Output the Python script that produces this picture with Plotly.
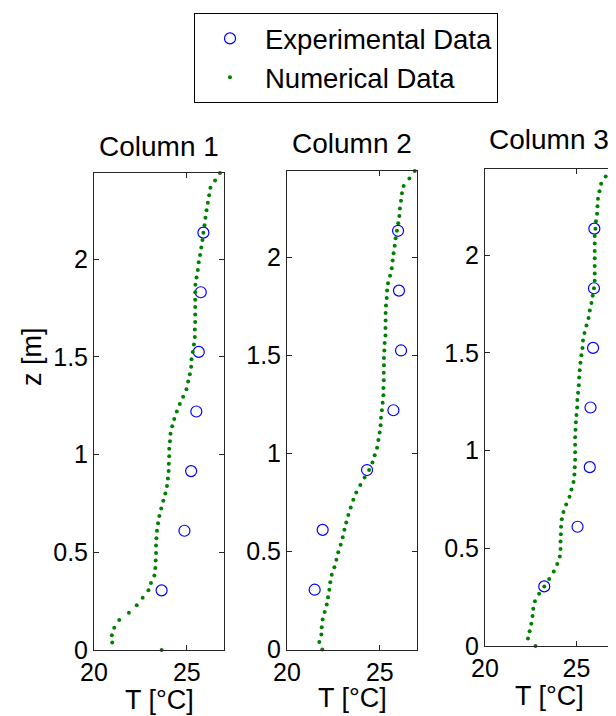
import plotly.graph_objects as go

# ---------------- data ----------------
z_num = [0.000, 0.038, 0.076, 0.114, 0.153, 0.191, 0.229, 0.267, 0.305, 0.343,
         0.381, 0.419, 0.458, 0.496, 0.534, 0.572, 0.610, 0.648, 0.686, 0.724,
         0.763, 0.801, 0.839, 0.877, 0.915, 0.953, 0.991, 1.029, 1.068, 1.106,
         1.144, 1.182, 1.220, 1.258, 1.296, 1.334, 1.373, 1.411, 1.449, 1.487,
         1.525, 1.563, 1.601, 1.639, 1.678, 1.716, 1.754, 1.792, 1.830, 1.868,
         1.906, 1.944, 1.983, 2.021, 2.059, 2.097, 2.135, 2.173, 2.211, 2.249,
         2.288, 2.326, 2.364, 2.402, 2.440]

T_num_col1 = [23.64, 20.98, 20.96, 21.09, 21.36, 21.88, 22.30, 22.62, 22.93, 23.07,
              23.25, 23.30, 23.32, 23.34, 23.34, 23.36, 23.39, 23.45, 23.52, 23.62,
              23.73, 23.84, 23.93, 23.98, 24.02, 24.03, 24.05, 24.05, 24.09, 24.12,
              24.21, 24.32, 24.46, 24.62, 24.80, 24.98, 25.07, 25.16, 25.23, 25.25,
              25.32, 25.38, 25.43, 25.43, 25.45, 25.45, 25.45, 25.45, 25.45, 25.46,
              25.52, 25.59, 25.64, 25.71, 25.78, 25.84, 25.89, 25.95, 26.00, 26.06,
              26.13, 26.20, 26.27, 26.52, 26.78]

T_num_col2 = [21.90, 21.74, 21.85, 21.87, 21.92, 22.03, 22.14, 22.21, 22.28, 22.33,
              22.41, 22.55, 22.66, 22.76, 22.89, 23.00, 23.09, 23.19, 23.30, 23.43,
              23.57, 23.73, 23.95, 24.18, 24.42, 24.60, 24.72, 24.85, 24.92, 24.99,
              25.04, 25.06, 25.11, 25.15, 25.19, 25.19, 25.21, 25.21, 25.22, 25.22,
              25.24, 25.26, 25.30, 25.30, 25.31, 25.31, 25.33, 25.37, 25.39, 25.44,
              25.55, 25.64, 25.69, 25.74, 25.80, 25.85, 25.92, 25.99, 26.05, 26.08,
              26.14, 26.19, 26.28, 26.59, 26.88]

T_num_col3 = [22.76, 22.35, 22.44, 22.53, 22.60, 22.64, 22.73, 22.96, 23.24, 23.51,
              23.76, 23.95, 24.09, 24.13, 24.13, 24.15, 24.16, 24.20, 24.29, 24.44,
              24.62, 24.73, 24.84, 24.89, 24.91, 24.93, 24.93, 24.93, 24.93, 24.95,
              24.97, 25.00, 25.04, 25.05, 25.09, 25.13, 25.15, 25.18, 25.22, 25.27,
              25.33, 25.36, 25.44, 25.55, 25.66, 25.73, 25.82, 25.89, 25.96, 26.00,
              26.00, 26.00, 26.00, 26.00, 26.00, 26.00, 26.04, 26.07, 26.13, 26.15,
              26.18, 26.26, 26.35, 26.60, 26.87]

z_exp = [0.305, 0.610, 0.915, 1.220, 1.525, 1.830, 2.135]
T_exp_col1 = [23.64, 24.87, 25.23, 25.51, 25.64, 25.75, 25.89]
T_exp_col2 = [21.49, 21.92, 24.31, 25.73, 26.14, 26.03, 25.98]
T_exp_col3 = [23.24, 25.06, 25.73, 25.77, 25.91, 25.96, 25.98]

column_titles = ["Column 1", "Column 2", "Column 3"]
x_ticks = [20, 25]
y_ticks = [0, 0.5, 1, 1.5, 2]
y_ticklabels = ["0", "0.5", "1", "1.5", "2"]

# ---------------- layout helpers ----------------
W, H = 616, 716
OFF = 8  # page body margin in the browser
FONT = "Liberation Sans, Arial, Helvetica, sans-serif"

def fx(px):
    return (px - OFF) / W

def fy(py):
    return 1 - (py - OFF) / H

# panel pixel boxes (window coordinates): (left, right, top, bottom)
boxes = [(94, 224, 173, 650), (287, 417, 171, 649.5), (485, 613, 169, 646)]
title_y = [147, 143.5, 139.5]
xlabel_y = [700, 698, 696]

fig = go.Figure()

num_series = [T_num_col1, T_num_col2, T_num_col3]
exp_series = [T_exp_col1, T_exp_col2, T_exp_col3]

for k in range(3):
    suffix = "" if k == 0 else str(k + 1)
    fig.add_trace(go.Scatter(
        x=exp_series[k], y=z_exp, mode="markers", name="Experimental Data",
        marker=dict(symbol="circle-open", size=11, color="#0000FF",
                    line=dict(width=1.2, color="#0000FF")),
        xaxis="x" + suffix, yaxis="y" + suffix, showlegend=(k == 0),
        cliponaxis=False))
    fig.add_trace(go.Scatter(
        x=num_series[k], y=z_num, mode="markers", name="Numerical Data",
        marker=dict(symbol="circle", size=4, color="#008000"),
        xaxis="x" + suffix, yaxis="y" + suffix, showlegend=(k == 0),
        cliponaxis=False))

axis_common = dict(showgrid=False, zeroline=False, showline=True, linecolor="#262626",
                   linewidth=1, mirror="ticks", ticks="inside", ticklen=5,
                   tickcolor="#262626", tickwidth=1, automargin=False,
                   tickfont=dict(family=FONT, size=25, color="black"))

layout = dict(
    width=W, height=H,
    margin=dict(l=0, r=0, t=0, b=0, pad=0, autoexpand=False),
    paper_bgcolor="white", plot_bgcolor="white",
    font=dict(family=FONT, size=25, color="black"),
    legend=dict(x=fx(194), y=fy(13), xanchor="left", yanchor="top",
                bordercolor="black", borderwidth=1, bgcolor="white",
                font=dict(family=FONT, size=27.5, color="black"),
                itemwidth=60, tracegroupgap=0),
)

annotations = []
for k, (l, r, t, b) in enumerate(boxes):
    suffix = "" if k == 0 else str(k + 1)
    xa = dict(axis_common, domain=[fx(l), fx(r)], range=[20, 27],
              tickvals=x_ticks, ticktext=[str(v) for v in x_ticks],
              anchor="y" + suffix)
    ya = dict(axis_common, domain=[fy(b), fy(t)], range=[0, 2.44],
              tickvals=y_ticks, ticktext=y_ticklabels, anchor="x" + suffix)
    layout["xaxis" + suffix] = xa
    layout["yaxis" + suffix] = ya
    cx = (l + r) / 2
    annotations.append(dict(x=fx(cx), y=fy(title_y[k]), xref="paper", yref="paper",
                            text=column_titles[k], showarrow=False,
                            font=dict(family=FONT, size=28, color="black"),
                            xanchor="center", yanchor="middle"))
    annotations.append(dict(x=fx(cx), y=fy(xlabel_y[k]), xref="paper", yref="paper",
                            text="T [°C]", showarrow=False,
                            font=dict(family=FONT, size=27, color="black"),
                            xanchor="center", yanchor="middle"))

annotations.append(dict(x=fx(32), y=fy(357), xref="paper", yref="paper",
                        text="z [m]", textangle=-90, showarrow=False,
                        font=dict(family=FONT, size=27, color="black"),
                        xanchor="center", yanchor="middle"))
layout["annotations"] = annotations

fig.update_layout(**layout)
fig.write_html("out.html")
